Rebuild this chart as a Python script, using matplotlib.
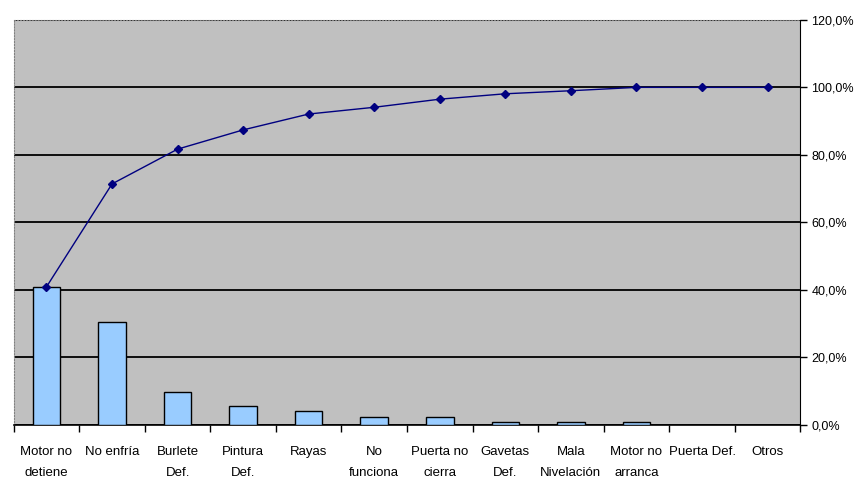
import numpy as np
import matplotlib.pyplot as plt
from matplotlib.ticker import FuncFormatter, FixedLocator

categories = ["Motor no\ndetiene", "No enfría", "Burlete\nDef.", "Pintura\nDef.", "Rayas",
              "No\nfunciona", "Puerta no\ncierra", "Gavetas\nDef.", "Mala\nNivelación",
              "Motor no\narranca", "Puerta Def.", "Otros"]
# share of defects (bars) and cumulative share (line), in %
share = [40.9, 30.6, 9.9, 5.6, 4.1, 2.3, 2.3, 0.8, 0.8, 0.8, 0.0, 0.0]
cumulative = [40.9, 71.4, 81.7, 87.4, 92.1, 94.1, 96.5, 98.1, 99.0, 100.0, 100.0, 100.0]
yticks = [0, 20, 40, 60, 80, 100, 120]

plt.rcParams['font.family'] = ['Liberation Sans Narrow', 'Liberation Sans', 'DejaVu Sans']
plt.rcParams['font.stretch'] = 'condensed'

fig = plt.figure(figsize=(8.56, 4.84), dpi=100, facecolor='white')
ax = fig.add_axes([0.016, 0.122, 0.919, 0.837])
ax.set_facecolor('#C0C0C0')

x = np.arange(len(categories))
ax.bar(x, share, width=0.42, color='#99CCFF', edgecolor='black', linewidth=1, zorder=3)
ax.plot(x, cumulative, color='#000080', linewidth=1, marker='D', markersize=4.5, zorder=4)

ax.set_xlim(-0.5, len(categories) - 0.5)
ax.set_ylim(0, 120)
ax.yaxis.tick_right()
ax.set_yticks(yticks)
ax.yaxis.set_major_formatter(FuncFormatter(lambda v, p: f"{v:.1f}%".replace('.', ',')))
ax.tick_params(axis='y', direction='out', length=5, width=1, labelsize=9, pad=3)
ax.grid(axis='y', color='black', linewidth=1.3, zorder=1)
ax.set_axisbelow(True)

# category labels centred, tick marks between categories
ax.set_xticks(x)
ax.set_xticklabels(categories, fontsize=9.5, linespacing=2.0, va='top')
ax.tick_params(axis='x', length=0, pad=15)
ax.xaxis.set_minor_locator(FixedLocator(np.arange(-0.5, len(categories), 1.0)))
ax.tick_params(axis='x', which='minor', direction='out', length=5, width=1)

ax.spines['right'].set_color('black')
ax.spines['bottom'].set_color('black')
ax.spines['bottom'].set_linewidth(1.2)
for s in ('left', 'top'):
    ax.spines[s].set_color('#808080')
    ax.spines[s].set_linestyle(':')
    ax.spines[s].set_linewidth(0.8)

fig.savefig('out.png', dpi=100, facecolor='white')
